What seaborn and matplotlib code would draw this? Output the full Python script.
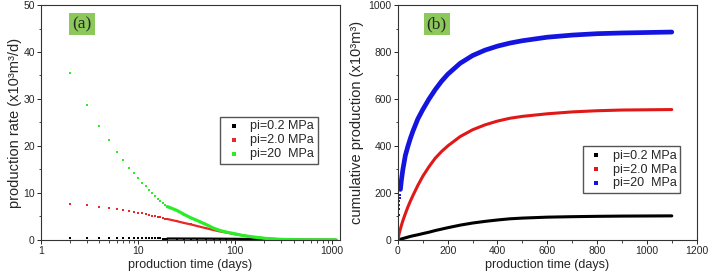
import numpy as np
import pandas as pd
import seaborn as sns
import matplotlib.pyplot as plt
from matplotlib.ticker import MultipleLocator, LogLocator, NullFormatter

# ---- panel (a): production rate, x10^3 m3/d
days_a = [1, 2, 3, 4, 5, 6, 7, 8, 9, 10, 11, 12, 13, 14, 15, 16, 17, 18, 19, 20,
          25, 30, 35, 40, 50, 60, 70, 80, 100, 120, 150, 200, 250, 300, 400, 500, 700, 1000, 1100]
rate_02 = [0.35, 0.34, 0.34, 0.33, 0.33, 0.33, 0.33, 0.32, 0.32, 0.32, 0.32, 0.32, 0.31, 0.31, 0.31,
           0.31, 0.31, 0.30, 0.30, 0.30, 0.30, 0.29, 0.29, 0.29, 0.28, 0.27, 0.26, 0.25, 0.24, 0.22,
           0.20, 0.16, 0.13, 0.10, 0.06, 0.04, 0.02, 0.01, 0.01]
rate_2 = [8.2, 7.75, 7.4, 7.1, 6.9, 6.6, 6.4, 6.2, 6.0, 5.8, 5.65, 5.5, 5.35, 5.2, 5.05,
          4.9, 4.8, 4.7, 4.55, 4.45, 4.0, 3.6, 3.3, 3.0, 2.5, 2.1, 1.8, 1.6, 1.2, 0.95,
          0.65, 0.38, 0.22, 0.13, 0.06, 0.03, 0.015, 0.01, 0.01]
rate_20 = [np.nan, 35.6, 28.7, 24.3, 21.2, 18.8, 17.0, 15.4, 14.2, 13.1, 12.2, 11.4, 10.6, 9.95, 9.3,
           8.8, 8.3, 7.9, 7.5, 7.1, 6.3, 5.4, 4.7, 4.2, 3.3, 2.5, 2.0, 1.7, 1.3, 0.95,
           0.65, 0.35, 0.2, 0.12, 0.06, 0.03, 0.015, 0.01, 0.01]

# ---- panel (b): cumulative production, x10^3 m3
days_b = [0, 1, 2, 3, 4, 5, 6, 7, 8, 10, 12, 15, 20, 30, 40, 50, 60, 80, 100, 125, 150, 175,
          200, 250, 300, 350, 400, 450, 500, 600, 700, 800, 900, 1000, 1100]
cum_02 = [0, 0.3, 0.6, 0.9, 1.2, 1.5, 1.8, 2.1, 2.4, 3, 3.6, 4.5, 6, 9, 12, 15, 17.5, 22, 27, 33, 40, 46,
          52, 63, 72, 79, 85, 90, 93, 97, 99, 100.5, 101.5, 102, 102.5]
cum_2 = [0, 6, 12, 17, 22, 27, 31, 35, 39, 47, 54, 65, 82, 112, 140, 165, 188, 232, 271, 312, 348, 376,
         400, 440, 469, 490, 506, 518, 526, 537, 545, 550, 553, 554, 555]
cum_20 = [0, 45, 80, 108, 130, 150, 166, 180, 193, 215, 235, 262, 300, 360, 398, 432, 462, 515, 555, 600, 640, 675,
          705, 752, 785, 808, 825, 838, 848, 863, 872, 878, 881, 883, 885]

labels = ['pi=0.2 MPa', 'pi=2.0 MPa', 'pi=20  MPa']

df_a = pd.DataFrame({'day': days_a, 'r02': rate_02, 'r2': rate_2, 'r20': rate_20})
df_b = pd.DataFrame({'day': days_b, 'c02': cum_02, 'c2': cum_2, 'c20': cum_20})

sns.set_style('ticks')
plt.rcParams['font.family'] = ['Liberation Sans', 'DejaVu Sans']
plt.rcParams['xtick.labelsize'] = 7.5
plt.rcParams['ytick.labelsize'] = 7.5

fig = plt.figure(figsize=(7.08, 2.79), dpi=100)
ax1 = fig.add_axes([0.058, 0.140, 0.422, 0.842])
ax2 = fig.add_axes([0.562, 0.140, 0.422, 0.842])

leg_kw = dict(loc='upper left', fontsize=9, frameon=True, fancybox=False, framealpha=1,
              edgecolor='#555555', handletextpad=0.5, borderpad=0.3, labelspacing=0.15,
              markerscale=1.4, handlelength=1.6, borderaxespad=0)

# (a)
cols_a = ['#000000', '#e82828', '#28ee28']
lws_a = [1.6, 1.6, 2.3]
for key, c, lab, lw in zip(['r02', 'r2', 'r20'], cols_a, labels, lws_a):
    sub = df_a.loc[df_a['day'] >= 20]
    sns.lineplot(x='day', y=key, data=sub, color=c, lw=lw, ax=ax1, legend=False)
    sns.scatterplot(x='day', y=key, data=df_a, color=c, marker='s', s=2.5, linewidth=0,
                    ax=ax1, label=lab)
ax1.set_xscale('log')
ax1.set_xlim(1, 1200)
ax1.set_ylim(0, 50)
ax1.yaxis.set_major_locator(MultipleLocator(10))
ax1.yaxis.set_minor_locator(MultipleLocator(5))
ax1.set_xticks([1, 10, 100, 1000])
ax1.set_xticklabels(['1', '10', '100', '1000'])
ax1.xaxis.set_minor_locator(LogLocator(base=10, subs=np.arange(2, 10)))
ax1.xaxis.set_minor_formatter(NullFormatter())
ax1.set_xlabel('production time (days)', fontsize=9, labelpad=2)
ax1.set_ylabel('production rate (x10³m³/d)', fontsize=10.5, labelpad=1)
ax1.legend(bbox_to_anchor=(0.60, 0.525), **leg_kw)
ax1.text(0.137, 0.918, '(a)', transform=ax1.transAxes, ha='center', va='center',
         family=['Liberation Serif'], fontsize=12.5,
         bbox=dict(boxstyle='square,pad=0.18', fc='#8cc85a', ec='none'))

# (b)
cols_b = ['#000000', '#e01818', '#1414e0']
lws_b = [2.2, 2.2, 3.4]
for key, c, lab, lw in zip(['c02', 'c2', 'c20'], cols_b, labels, lws_b):
    sub = df_b if key != 'c20' else df_b.loc[df_b['day'] >= 10]
    sns.lineplot(x='day', y=key, data=sub, color=c, lw=lw, ax=ax2, legend=False)
    sns.scatterplot(x='day', y=key, data=df_b.loc[df_b['day'] <= 12], color=c, marker='s', s=2.5,
                    linewidth=0, ax=ax2, label=lab)
ax2.set_xlim(0, 1200)
ax2.set_ylim(0, 1000)
ax2.xaxis.set_major_locator(MultipleLocator(200))
ax2.xaxis.set_minor_locator(MultipleLocator(100))
ax2.yaxis.set_major_locator(MultipleLocator(200))
ax2.yaxis.set_minor_locator(MultipleLocator(100))
ax2.set_xlabel('production time (days)', fontsize=9, labelpad=2)
ax2.set_ylabel('cumulative production (x10³m³)', fontsize=10.5, labelpad=3)
ax2.legend(bbox_to_anchor=(0.618, 0.40), **leg_kw)
ax2.text(0.13, 0.918, '(b)', transform=ax2.transAxes, ha='center', va='center',
         family=['Liberation Serif'], fontsize=12.5,
         bbox=dict(boxstyle='square,pad=0.18', fc='#8cc85a', ec='none'))

for ax in (ax1, ax2):
    for sp in ax.spines.values():
        sp.set_color('#333333')
        sp.set_linewidth(0.8)
    ax.tick_params(which='major', direction='out', length=3, width=0.7, pad=1.5)
    ax.tick_params(which='minor', direction='out', length=1.8, width=0.6)

fig.savefig('out.png', dpi=100)
